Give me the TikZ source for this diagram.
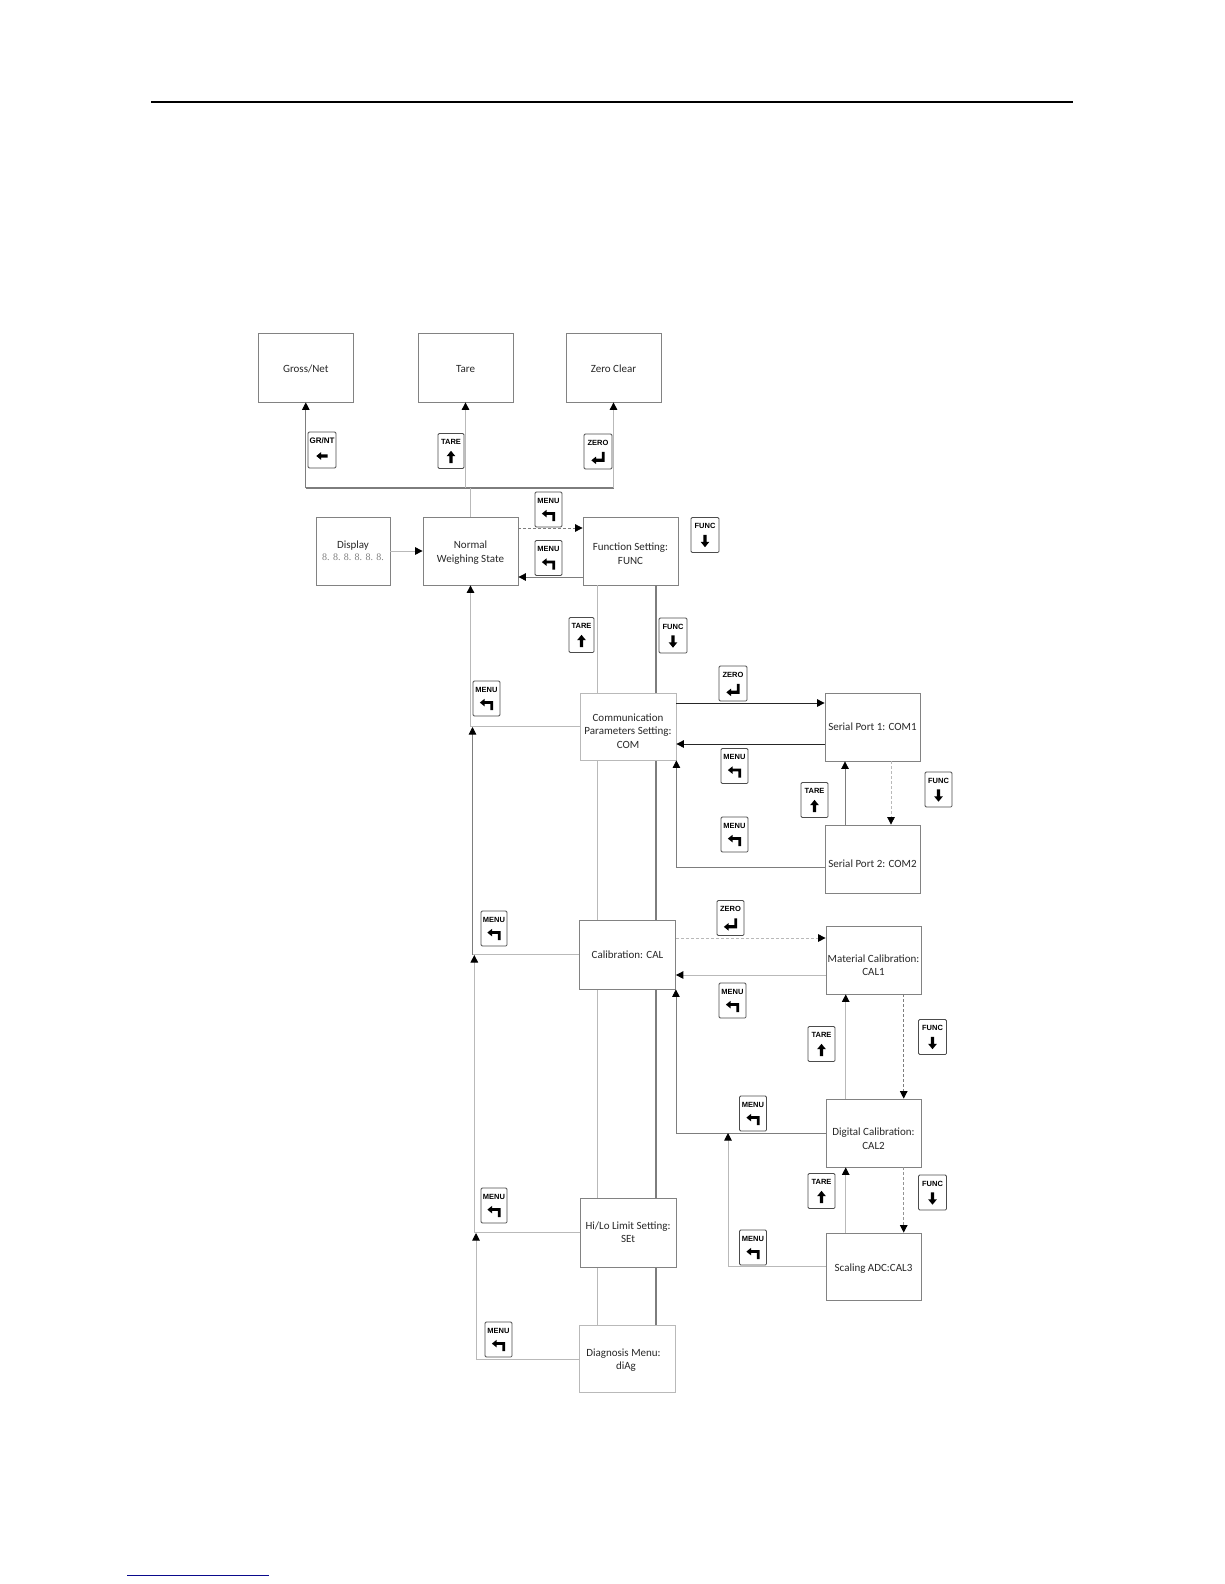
\documentclass[tikz,border=0pt]{standalone}
\usepackage{fontspec}
\setmainfont{Carlito}
\setsansfont{Liberation Sans}
\newfontfamily\digitfont{Liberation Serif}
\usetikzlibrary{arrows.meta, positioning}
\definecolor{cBorder}{RGB}{130,130,130}
\definecolor{cPale}{RGB}{185,185,185}
\definecolor{cMid}{RGB}{125,125,125}
\definecolor{cText}{RGB}{40,40,40}
\definecolor{cNavy}{RGB}{10,10,140}
\newcommand{\dropby}[1]{\rule{0pt}{\dimexpr 8pt+2\dimexpr #1pt\relax\relax}}
\tikzset{
	menubox/.style={rectangle, draw=cBorder, fill=white, line width=0.8pt, minimum width=95pt, minimum height=68pt, align=center, inner sep=0pt, font=\fontsize{11}{13.2}\selectfont, text=cText},
	keycap/.style={rectangle, rounded corners=1.2pt, draw=black!70, fill=white, line width=0.8pt, minimum width=27pt, minimum height=35pt, inner xsep=0pt, inner ysep=3pt, text height=5.5pt, text depth=18pt, font=\sffamily\bfseries\fontsize{7.5}{8}\selectfont},
	flowline/.style={draw=cMid, line width=0.8pt},
	paleline/.style={draw=cPale, line width=1pt},
	blackflow/.style={draw=black!85, line width=0.9pt, -{Triangle[length=7.5pt,width=7.5pt,black]}},
	greyflow/.style={draw=cMid, line width=0.8pt, -{Triangle[length=7.5pt,width=7.5pt,black]}},
	paleflow/.style={draw=cPale, line width=1pt, -{Triangle[length=7.5pt,width=7.5pt,black]}},
	dashflow/.style={draw=cMid, line width=0.8pt, densely dashed, -{Triangle[length=7.5pt,width=7.5pt,black]}},
	% key glyphs
	glyph left/.pic={\fill (-6,0) -- (-1,-4) -- (-1,-1.8) -- (6,-1.8) -- (6,1.8) -- (-1,1.8) -- (-1,4) -- cycle;},
	glyph up/.pic={\fill (0,-6.5) -- (4.5,-1) -- (1.8,-1) -- (1.8,6.5) -- (-1.8,6.5) -- (-1.8,-1) -- (-4.5,-1) -- cycle;},
	glyph down/.pic={\fill (0,6.5) -- (4.5,1) -- (1.8,1) -- (1.8,-6.5) -- (-1.8,-6.5) -- (-1.8,1) -- (-4.5,1) -- cycle;},
	glyph enter/.pic={\fill (-7,3) -- (-2,-1) -- (-2,1.2) -- (4,1.2) -- (4,-6) -- (7,-6) -- (7,4.6) -- (-2,4.6) -- (-2,7) -- cycle;},
	glyph menu/.pic={\fill (-7,-2) -- (-2,-6) -- (-2,-3.6) -- (7,-3.6) -- (7,6) -- (4,6) -- (4,-0.6) -- (-2,-0.6) -- (-2,2) -- cycle;},
}

\begin{document}
\begin{tikzpicture}[x=1pt, y=-1pt]
	\useasboundingbox (0,0) rectangle (1224,1584);
	% page rules
	\coordinate (ruleA) at (151,101.7);
	\coordinate (ruleB) at (1073,101.7);
	\coordinate (ruleC) at (127,1575);
	\coordinate (ruleD) at (269,1575);
	\draw[line width=2pt] (ruleA) -- (ruleB);
	\draw[draw=cNavy, line width=1pt] (ruleC) -- (ruleD);

	% two long verticals sit behind the boxes
	\node[menubox] (func) at (630.5,551) {\dropby{2.5}Function Setting:\\FUNC};
	\node[menubox, minimum width=96pt, minimum height=67pt, draw=cPale] (diag) at (627.5,1358.5) {\dropby{1.5}\hspace*{-8pt}Diagnosis Menu:\\\hspace*{-3pt}diAg};
	\draw[paleline] (func.south -| 597.7,0) -- (diag.north -| 597.7,0);
	\draw[draw=cMid, line width=1.2pt] (func.south -| 656,0) -- (diag.north -| 656,0);

	% top row
	\node[menubox, minimum height=69pt] (gross) at (305.8,367.5) {\dropby{1}Gross/Net};
	\node[menubox, minimum height=69pt] (tare) at (465.5,367.5) {\dropby{1}Tare};
	\node[menubox, minimum height=69pt] (zero) at (613.5,367.5) {\dropby{1}Zero Clear};

	% main column
	\node[menubox, minimum width=74pt] (display) at (353,551) {Display\\[-1pt]{\digitfont\fontsize{10}{12}\selectfont\color{gray}8. 8. 8. 8. 8. 8.}};
	\node[menubox] (normal) at (470.5,551) {\dropby{1.5}Normal\\Weighing State};
	\node[menubox, minimum width=96pt, minimum height=67pt, draw=cPale] (com) at (628,726.5) {\dropby{4.5}Communication\\Parameters Setting:\\COM};
	\node[menubox, minimum width=96pt, minimum height=69pt] (cal) at (627.5,954.5) {Calibration: CAL};
	\node[menubox, minimum width=96pt, minimum height=69pt] (set) at (628,1232.5) {Hi/Lo Limit Setting:\\SEt};

	% right column
	\node[menubox, minimum height=68pt] (port1) at (872.5,727) {Serial Port 1: COM1};
	\node[menubox, minimum height=68pt] (port2) at (872.5,859) {\dropby{5}Serial Port 2: COM2};
	\node[menubox] (cal1) at (873.5,960) {\dropby{5}Material Calibration:\\CAL1};
	\node[menubox] (cal2) at (873.5,1133) {\dropby{5.5}Digital Calibration:\\CAL2};
	\node[menubox, minimum height=67pt] (cal3) at (873.5,1266.5) {\dropby{2}Scaling ADC:CAL3};

	% upper bus
	\draw[flowline, line width=1.2pt] (gross.south |- 0,488) -- (zero.south |- 0,488);
	\draw[paleline] (normal.north) -- (normal.north |- 0,488);
	\draw[greyflow] (gross.south |- 0,488) -- (gross.south);
	\draw[paleflow] (tare.south |- 0,488) -- (tare.south);
	\draw[paleflow] (zero.south |- 0,488) -- (zero.south);
	\draw[paleflow] (display.east) -- (normal.west);
	\draw[dashflow] (normal.east |- 0,528) -- (func.west |- 0,528);
	\draw[greyflow, line width=0.9pt] (func.west |- 0,577) -- (normal.east |- 0,577);

	% returns on the left
	\draw[paleflow] (com.west) -| (normal.south);
	\coordinate (backA) at (472.5,954.5);
	\draw[paleline] (cal.west) -- (backA);
	\draw[greyflow] (backA) -- (472.5,727);
	\draw[paleflow] (set.west) -- (474.3,1232.5) -- (474.3,955);
	\draw[paleflow] (diag.west |- 0,1359) -- (476,1359) -- (476,1233);

	% serial ports
	\draw[blackflow] (com.east |- 0,703) -- (port1.west |- 0,703);
	\draw[blackflow] (port1.west |- 0,744) -- (com.east |- 0,744);
	\draw[greyflow] (port2.north -| 845,0) -- (port1.south -| 845,0);
	\draw[dashflow, draw=cPale] (port1.south -| 891,0) -- (port2.north -| 891,0);
	\draw[greyflow] (port2.west |- 0,867) -| (com.south east);

	% calibration
	\draw[dashflow, draw=cPale, line width=1pt] (cal.east |- 0,938) -- (cal1.west |- 0,938);
	\draw[paleflow] (cal1.west |- 0,975) -- (cal.east |- 0,975);
	\draw[paleflow] (cal2.north -| 845.7,0) -- (cal1.south -| 845.7,0);
	\draw[dashflow, line width=1.1pt] (cal1.south -| 903.7,0) -- (cal2.north -| 903.7,0);
	\draw[greyflow] (cal2.west) -| (cal.south east);
	\draw[paleflow] (cal3.north -| 845.7,0) -- (cal2.south -| 845.7,0);
	\draw[dashflow, line width=1.1pt, draw=cPale!80!black] (cal2.south -| 903.7,0) -- (cal3.north -| 903.7,0);
	\draw[paleflow] (cal3.west) -| (728,1133);

	% keys
	\foreach \keyname/\kx/\ky/\kw/\klabel/\kglyph in {
		kTare/451/451/26/TARE/up, kZero/598/451.5/28/ZERO/enter,
		kMenuA/548.5/509.5/27/MENU/menu, kMenuB/548.5/558/27/MENU/menu,
		kFunc/705/535/28/FUNC/down, kTareB/581.5/635/25/TARE/up,
		kFuncB/673/635.5/28/FUNC/down, kMenuC/486.5/698.5/27/MENU/menu,
		kZeroB/733/683.5/28/ZERO/enter, kMenuD/734.5/766/27/MENU/menu,
		kTareC/814.5/800/27/TARE/up, kFuncC/938.5/789.5/27/FUNC/down,
		kMenuE/734.5/834.5/27/MENU/menu, kZeroC/730.5/918/27/ZERO/enter,
		kMenuF/494/928.5/26/MENU/menu, kMenuG/732.5/1000.5/27/MENU/menu,
		kTareD/821.5/1044/27/TARE/up, kFuncD/932.5/1037/28/FUNC/down,
		kMenuH/753/1113.5/27/MENU/menu, kTareE/821.5/1191/27/TARE/up,
		kFuncE/932.5/1192.5/28/FUNC/down, kMenuI/494/1205.5/26/MENU/menu,
		kMenuJ/753/1247.5/27/MENU/menu, kMenuK/498.5/1339.5/27/MENU/menu}{
		\node[keycap, minimum width=\kw pt] (\keyname) at (\kx,\ky) {\klabel};
		\pic[scale=0.95] at ([yshift=-6pt]\keyname.center) {glyph \kglyph};
	}
	\node[keycap, minimum width=28pt, minimum height=36pt, font=\sffamily\bfseries\fontsize{8}{8}\selectfont] (kGross) at (322,450) {GR/NT};
	\pic[scale=0.95] at ([yshift=-6pt]kGross.center) {glyph left};
\end{tikzpicture}
\end{document}
